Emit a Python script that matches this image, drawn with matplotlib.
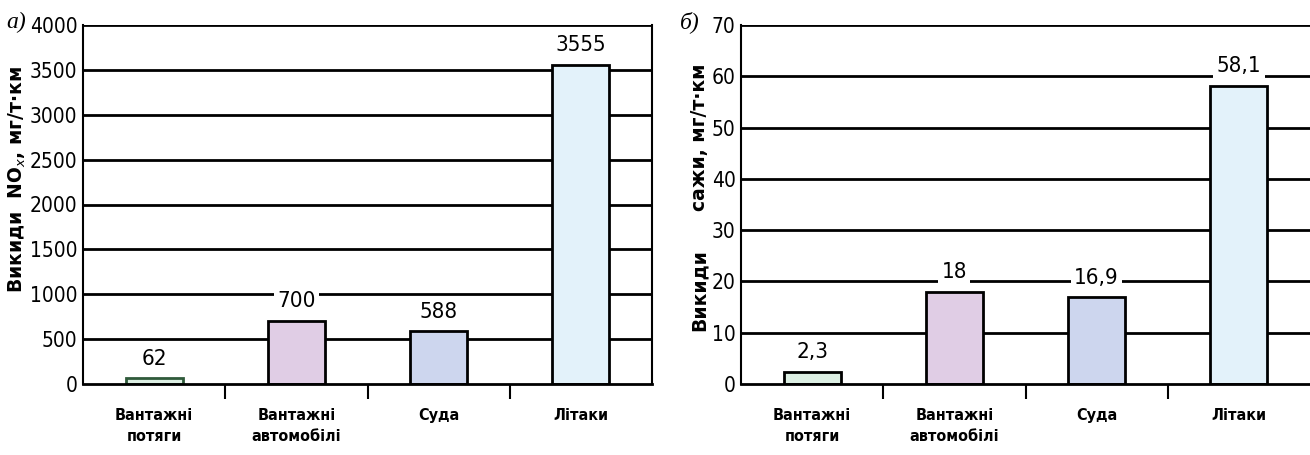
import matplotlib
matplotlib.use("Agg")
import matplotlib.pyplot as plt
from matplotlib import font_manager as fm
from matplotlib.ticker import FixedLocator

categories = ["Вантажні\nпотяги", "Вантажні\nавтомобілі", "Суда", "Літаки"]
nox_values = [62, 700, 588, 3555]
nox_labels = ["62", "700", "588", "3555"]
soot_values = [2.3, 18, 16.9, 58.1]
soot_labels = ["2,3", "18", "16,9", "58,1"]
nox_ticks = [0, 500, 1000, 1500, 2000, 2500, 3000, 3500, 4000]
soot_ticks = [0, 10, 20, 30, 40, 50, 60, 70]

colors = ["#dcefe3", "#e0cde5", "#cdd6ee", "#e3f2fa"]

# look for an installed condensed / narrow sans face
cands = []
for f in fm.fontManager.ttflist:
    fn = f.fname.lower()
    n = fn + " " + f.name.lower()
    if ("condensed" in n or "narrow" in n or f.stretch in ("condensed", "semi-condensed")) \
            and "italic" not in n and "oblique" not in n and f.style == "normal" \
            and "serif" not in n and "mono" not in n:
        cands.append(f)


def pick(bold):
    best = None
    for f in cands:
        fn = f.fname.lower()
        w = f.weight if isinstance(f.weight, int) else (700 if "bold" in str(f.weight) else 400)
        isb = w >= 600
        if isb == bold and not any(k in fn for k in ("extra", "semi", "light", "black", "thin", "medium")):
            if best is None or "dejavu" in fn:
                best = f
    return best


reg = pick(False)
bld = pick(True)
if reg is not None:
    NUM = fm.FontProperties(fname=reg.fname)
    num_size = 15
else:
    NUM = fm.FontProperties(family="Liberation Sans")
    num_size = 14
if bld is not None:
    CAT = fm.FontProperties(fname=bld.fname)
    cat_size = 11.5
else:
    CAT = fm.FontProperties(family="Liberation Sans", weight="bold")
    cat_size = 11.5

fig = plt.figure(figsize=(13.1, 4.55), dpi=100)
ax1 = fig.add_axes([83/1310, 1-384/455, 569/1310, 359/455])
ax2 = fig.add_axes([741/1310, 1-384/455, 569/1310, 359/455])


def draw(ax, values, labels, ticks, first_edge, right_spine):
    x = list(range(len(values)))
    for t in ticks[1:]:
        ax.axhline(t, color="black", lw=2.0, zorder=1)
    edges = [first_edge, "black", "black", "black"]
    ax.bar(x, values, width=0.4, color=colors, edgecolor=edges, linewidth=2.0, zorder=3)
    for xi, v, lab in zip(x, values, labels):
        ax.annotate(lab, (xi, v), xytext=(0, 7), textcoords="offset points",
                    ha="center", va="bottom", fontproperties=NUM, fontsize=16,
                    bbox=dict(boxstyle="square,pad=0.15", fc="white", ec="none"),
                    zorder=4)
    ax.set_xlim(-0.5, 3.5)
    ax.set_ylim(0, ticks[-1])
    ax.set_yticks(ticks)
    ax.set_yticklabels([str(t) for t in ticks])
    for tl in ax.get_yticklabels():
        tl.set_fontproperties(NUM)
        tl.set_fontsize(num_size)
    ax.tick_params(axis="y", length=0, pad=4)
    ax.set_xticks(x)
    ax.set_xticklabels(categories, linespacing=1.55, va="top")
    for tl in ax.get_xticklabels():
        tl.set_fontproperties(CAT)
        tl.set_fontsize(cat_size)
    ax.tick_params(axis="x", which="major", length=0, pad=17)
    ax.xaxis.set_minor_locator(FixedLocator([0.5, 1.5, 2.5]))
    ax.tick_params(axis="x", which="minor", length=11, width=1.5, direction="out")
    ax.spines["top"].set_visible(False)
    ax.spines["right"].set_visible(right_spine)
    ax.spines["right"].set_linewidth(1.5)
    ax.spines["left"].set_linewidth(1.5)
    ax.spines["bottom"].set_linewidth(2.0)
    ax.spines["bottom"].set_zorder(5)


draw(ax1, nox_values, nox_labels, nox_ticks, "#2f5a3a", True)
draw(ax2, soot_values, soot_labels, soot_ticks, "black", False)

# y-axis titles
ylab_kw = dict(rotation=90, ha="center", va="center", fontsize=13.5,
               fontweight="bold", family="DejaVu Sans")
fig.text(17/1310, 1-180/455, "Викиди  NO$_{\\mathit{x}}$, мг/т·км", **ylab_kw)
fig.text(699/1310, 1-290/455, "Викиди", **ylab_kw)
fig.text(699/1310, 1-137/455, "сажи, мг/т·км", **ylab_kw)

# panel letters
fig.text(16/1310, 1-22/455, "а)", fontsize=17, style="italic",
         family=["Liberation Serif", "DejaVu Serif"], ha="center", va="center")
fig.text(690/1310, 1-22/455, "б)", fontsize=17, style="italic",
         family=["Liberation Serif", "DejaVu Serif"], ha="center", va="center")

fig.savefig("out.png", dpi=100)
